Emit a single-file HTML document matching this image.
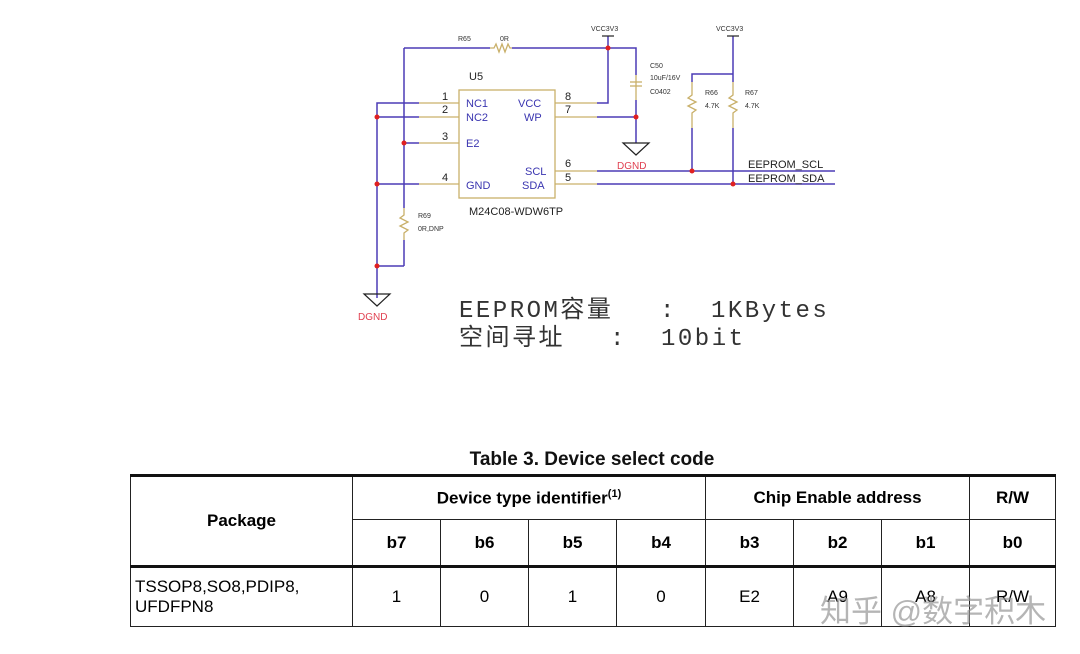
<!DOCTYPE html>
<html><head><meta charset="utf-8"><style>
body{margin:0;background:#fff;width:1080px;height:654px;overflow:hidden;position:relative;font-family:"Liberation Sans",sans-serif}
svg{position:absolute;left:0;top:0}
table{position:absolute;left:130px;top:474px;border-collapse:collapse;table-layout:fixed;width:925px;font-family:"Liberation Sans",sans-serif;font-size:17px}
td{border:1px solid #222;text-align:center;padding:0}
.h td{font-weight:bold}
</style></head><body>
<svg width="1080" height="654" font-family="Liberation Sans, sans-serif">
<g stroke="#4b3bb5" stroke-width="1.5" fill="none">
<polyline points="404,48 490,48"/><polyline points="512,48 636,48 636,75"/>
<line x1="404" y1="48" x2="404" y2="208"/><line x1="404" y1="240" x2="404" y2="266"/>
<line x1="377" y1="266" x2="404" y2="266"/>
<polyline points="419,103 377,103 377,298"/>
<line x1="377" y1="117" x2="419" y2="117"/><line x1="404" y1="143" x2="419" y2="143"/><line x1="377" y1="184" x2="419" y2="184"/>
<polyline points="597,103 608,103 608,48"/><line x1="608" y1="36" x2="608" y2="48"/>
<line x1="597" y1="117" x2="636" y2="117"/><line x1="636" y1="100" x2="636" y2="143"/>
<line x1="597" y1="171" x2="835" y2="171"/><line x1="597" y1="184" x2="835" y2="184"/>
<polyline points="692,82 692,74 733,74"/><line x1="733" y1="36" x2="733" y2="82"/>
<line x1="692" y1="128" x2="692" y2="171"/><line x1="733" y1="128" x2="733" y2="184"/>
</g>
<g stroke="#c9b06a" stroke-width="1.3" fill="none">
<rect x="459" y="90" width="96" height="108"/>
<line x1="419" y1="103" x2="459" y2="103"/><line x1="419" y1="117" x2="459" y2="117"/><line x1="419" y1="143" x2="459" y2="143"/><line x1="419" y1="184" x2="459" y2="184"/>
<line x1="555" y1="103" x2="597" y2="103"/><line x1="555" y1="117" x2="597" y2="117"/><line x1="555" y1="171" x2="597" y2="171"/><line x1="555" y1="184" x2="597" y2="184"/>
<polyline points="490,48 494,48 496,44 499,52 502,44 505,52 508,44 510,48 512,48"/>
<line x1="636" y1="75" x2="636" y2="100"/><line x1="630" y1="82" x2="642" y2="82"/><line x1="630" y1="86" x2="642" y2="86"/>
<polyline points="404,208 404,215 400,218 408,222 400,226 408,230 404,233 404,240"/>
<polyline points="692,82 692,95 688,98 696,102 688,106 696,110 692,113 692,128"/>
<polyline points="733,82 733,95 729,98 737,102 729,106 737,110 733,113 733,128"/>
</g>
<g stroke="#222" stroke-width="1.2" fill="none">
<line x1="602" y1="36" x2="614" y2="36"/><line x1="727" y1="36" x2="739" y2="36"/>
<polygon points="364,294 390,294 377,306"/><polygon points="623,143 649,143 636,155"/>
</g>
<g fill="#e02020">
<circle cx="608" cy="48" r="2.5"/><circle cx="377" cy="117" r="2.5"/><circle cx="404" cy="143" r="2.5"/><circle cx="377" cy="184" r="2.5"/><circle cx="377" cy="266" r="2.5"/><circle cx="636" cy="117" r="2.5"/><circle cx="692" cy="171" r="2.5"/><circle cx="733" cy="184" r="2.5"/>
</g>
<g font-size="7" fill="#333">
<text x="458" y="41">R65</text><text x="500" y="41">0R</text>
<text x="591" y="31">VCC3V3</text><text x="716" y="31">VCC3V3</text>
<text x="650" y="68">C50</text><text x="650" y="80">10uF/16V</text><text x="650" y="94">C0402</text>
<text x="705" y="95">R66</text><text x="705" y="108">4.7K</text><text x="745" y="95">R67</text><text x="745" y="108">4.7K</text>
<text x="418" y="218">R69</text><text x="418" y="231">0R,DNP</text>
</g>
<g font-size="11" fill="#222">
<text x="469" y="80">U5</text>
<text x="442" y="100">1</text><text x="442" y="113">2</text><text x="442" y="140">3</text><text x="442" y="181">4</text>
<text x="565" y="100">8</text><text x="565" y="113">7</text><text x="565" y="167">6</text><text x="565" y="181">5</text>
<text x="469" y="215">M24C08-WDW6TP</text>
<text x="748" y="168">EEPROM_SCL</text><text x="748" y="182">EEPROM_SDA</text>
</g>
<g font-size="11" fill="#3a35b0">
<text x="466" y="107">NC1</text><text x="466" y="121">NC2</text><text x="466" y="147">E2</text><text x="466" y="189">GND</text>
<text x="518" y="107">VCC</text><text x="524" y="121">WP</text><text x="525" y="175">SCL</text><text x="522" y="189">SDA</text>
</g>
<g font-size="10" fill="#e04050"><text x="358" y="320">DGND</text><text x="617" y="169">DGND</text></g>
<g font-size="24" fill="#333" font-family="Liberation Mono, Noto Sans CJK SC, monospace" letter-spacing="2.5">
<text x="459" y="317">EEPROM容量</text><text x="660" y="317">:</text><text x="711" y="317">1KBytes</text>
<text x="459" y="345">空间寻址</text><text x="610" y="345">:</text><text x="661" y="345">10bit</text>
</g>
<text x="592" y="465" font-size="19" font-weight="bold" text-anchor="middle" fill="#111">Table 3. Device select code</text>
</svg>
<table>
<colgroup><col style="width:222px"><col style="width:88px"><col style="width:88px"><col style="width:88px"><col style="width:89px"><col style="width:88px"><col style="width:88px"><col style="width:88px"><col style="width:86px"></colgroup>
<tr class="h" style="height:44px;border-top:3px solid #111"><td rowspan="2">Package</td><td colspan="4">Device type identifier<sup style="font-size:11px">(1)</sup></td><td colspan="3">Chip Enable address</td><td>R/W</td></tr>
<tr class="h" style="height:47px;border-bottom:3px solid #111"><td>b7</td><td>b6</td><td>b5</td><td>b4</td><td>b3</td><td>b2</td><td>b1</td><td>b0</td></tr>
<tr style="height:60px"><td style="text-align:left;padding-left:4px">TSSOP8,SO8,PDIP8,<br>UFDFPN8</td><td>1</td><td>0</td><td>1</td><td>0</td><td>E2</td><td>A9</td><td>A8</td><td>R/W</td></tr>
</table>
<div style="position:absolute;left:820px;top:586px;font-size:31px;color:rgba(150,150,150,0.7);font-family:'Liberation Sans','Noto Sans CJK SC',sans-serif">知乎 @数字积木</div>
</body></html>
